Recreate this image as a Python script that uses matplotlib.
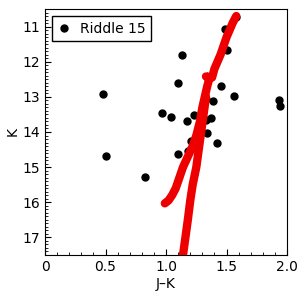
import matplotlib
matplotlib.use('Agg')
import matplotlib.pyplot as plt
from matplotlib.ticker import MultipleLocator

# Riddle 15 stars: J-K colour and K magnitude
jk = [0.48, 0.50, 0.83, 0.97, 1.04, 1.10, 1.13, 1.10, 1.17, 1.23, 1.34, 1.42,
      1.37, 1.39, 1.45, 1.56, 1.49, 1.50, 1.93, 1.94, 1.21, 1.18, 1.58, 1.30,
      1.33, 1.33]
kmag = [12.92, 14.68, 15.28, 13.45, 13.57, 12.60, 11.82, 14.62, 13.70, 13.53,
        14.02, 14.31, 13.60, 13.13, 12.70, 12.97, 11.08, 11.68, 13.10, 13.25,
        14.25, 14.55, 10.72, 13.35, 13.65, 13.05]

# isochrone, upper branch (from faint end to bright end, with hook)
iso1_jk = [0.99, 1.02, 1.05, 1.08, 1.11, 1.14, 1.18, 1.22, 1.25, 1.28, 1.30,
           1.32, 1.34, 1.36, 1.33, 1.38, 1.40, 1.45, 1.50, 1.55, 1.58]
iso1_k = [16.03, 15.95, 15.80, 15.60, 15.30, 15.00, 14.70, 14.40, 14.10, 13.70,
          13.30, 13.00, 12.70, 12.45, 12.42, 12.45, 12.20, 11.80, 11.30, 10.90,
          10.70]
# isochrone, steep lower branch
iso2_jk = [1.14, 1.16, 1.18, 1.20, 1.22, 1.25, 1.27, 1.29, 1.31, 1.33]
iso2_k = [17.50, 17.00, 16.50, 15.95, 15.50, 15.00, 14.50, 14.00, 13.50, 13.00]

fig = plt.figure(figsize=(3, 3), dpi=100)
ax = fig.add_axes([0.15, 0.15, 0.807, 0.82])

ax.plot(iso1_jk, iso1_k, color='#ee0000', lw=6, solid_capstyle='round',
        solid_joinstyle='round', zorder=3)
ax.plot(iso2_jk, iso2_k, color='#ee0000', lw=6, solid_capstyle='round',
        solid_joinstyle='round', zorder=3)
ax.plot(jk, kmag, 'o', color='black', ms=5, label='Riddle 15', zorder=2)

ax.set_xlim(0, 2.0)
ax.set_ylim(17.5, 10.5)
ax.xaxis.set_major_locator(MultipleLocator(0.5))
ax.xaxis.set_minor_locator(MultipleLocator(0.1))
ax.yaxis.set_major_locator(MultipleLocator(1))
ax.yaxis.set_minor_locator(MultipleLocator(0.1))
ax.set_xticks([0, 0.5, 1.0, 1.5, 2.0])
ax.set_xticklabels(['0', '0.5', '1.0', '1.5', '2.0'])
ax.tick_params(which='both', direction='in', top=False, right=False,
               labelsize=10)
ax.tick_params(which='major', length=4)
ax.tick_params(which='minor', length=2)

ax.set_xlabel('J\u2013K', fontsize=10, labelpad=2)
ax.set_ylabel('K', fontsize=10, labelpad=2)

ax.legend(loc='upper left', fontsize=10, frameon=True, fancybox=False,
          edgecolor='black', framealpha=1, handlelength=1, borderpad=0.4,
          handletextpad=0.6)

fig.savefig('out.png', dpi=100)
